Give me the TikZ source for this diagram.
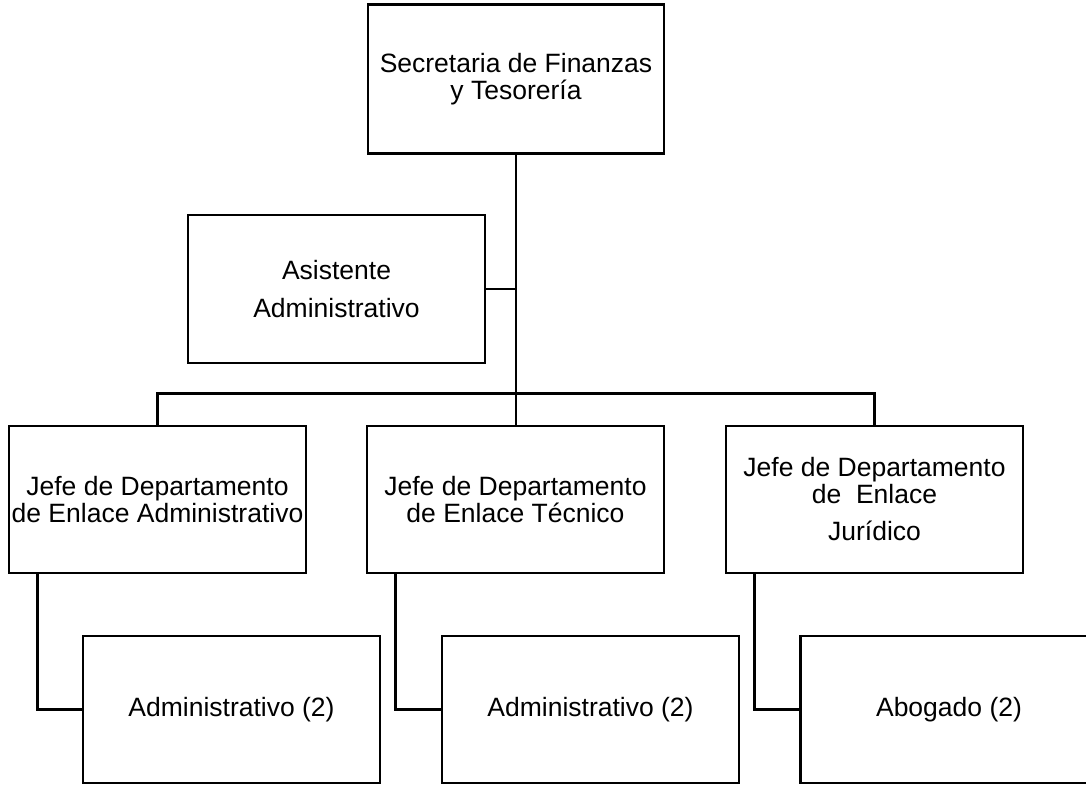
\documentclass[tikz,border=0pt]{standalone}
\usepackage{fontspec}
\setmainfont{Liberation Sans}
\begin{document}
\begin{tikzpicture}[x=1pt,y=-1pt,
  post/.style={draw, line width=2.6pt, minimum width=297pt, minimum height=147pt,
    inner sep=0pt, align=center, font=\fontsize{26.5}{27}\selectfont},
  link/.style={line width=2.6pt}]
\useasboundingbox (0,0) rectangle (1086,784);
\clip (0,0) rectangle (1086,784);

% head of the office
\node[post, minimum width=296pt, minimum height=149pt] (sec) at (516,79)
  {Secretaria de Finanzas\\y Tesorería};

% staff position
\node[post, minimum height=148pt, font=\fontsize{26.5}{38}\selectfont] (asis) at (336.5,289)
  {Asistente\\Administrativo};

% department heads
\node[post] (jadm) at (157.5,499.5) {Jefe de Departamento\\de Enlace Administrativo};
\node[post] (jtec) at (515.5,499.5) {Jefe de Departamento\\de Enlace Técnico};
\node[post] (jjur) at (874.5,499.5) {Jefe de Departamento\\de~~Enlace\\[10pt]Jurídico};

% subordinate staff
\node[post] (sadm) at (231.5,709.5) {Administrativo (2)};
\node[post] (stec) at (590.5,709.5) {Administrativo (2)};
\node[post] (sjur) at (949,709.5) {Abogado (2)};

% main trunk and branches
\draw[link] (sec.south) -- (sec.south |- jtec.north);
\draw[link] (asis.east) -- (asis.east -| sec.south);
\draw[link] (jadm.north) -- ++(0,-31) -| (jjur.north);

% links to subordinate staff
\draw[link] ([xshift=30pt]jadm.south west) |- (sadm.west);
\draw[link] ([xshift=30pt]jtec.south west) |- (stec.west);
\draw[link] ([xshift=30pt]jjur.south west) |- (sjur.west);
\end{tikzpicture}
\end{document}
